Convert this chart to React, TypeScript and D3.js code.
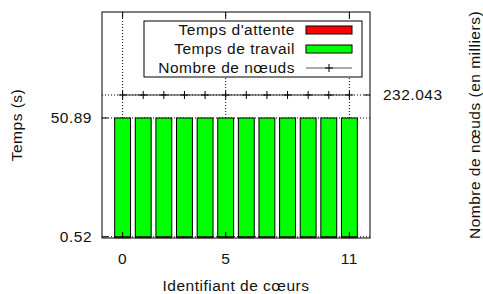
import { scaleLinear } from "d3";

const cores = [0, 1, 2, 3, 4, 5, 6, 7, 8, 9, 10, 11];
const waitTimes = [0.52, 0.52, 0.52, 0.52, 0.52, 0.52, 0.52, 0.52, 0.52, 0.52, 0.52, 0.52];
const workTimes = [50.37, 50.37, 50.37, 50.37, 50.37, 50.37, 50.37, 50.37, 50.37, 50.37, 50.37, 50.37];
const nodeCounts = [232.043, 232.043, 232.043, 232.043, 232.043, 232.043, 232.043, 232.043, 232.043, 232.043, 232.043, 232.043];
const xTicks = [0, 5, 11];
const yTicks = [0.52, 50.89];
const y2Ticks = [232.043];
const legendLabels = ["Temps d'attente", "Temps de travail", "Nombre de nœuds"];

const App = () => {
    const width = 483;
    const height = 294;
    const margin = { top: 12, right: 113, bottom: 56, left: 102 };
    const innerWidth = width - margin.left - margin.right;
    const innerHeight = height - margin.top - margin.bottom;
    const font = "'Liberation Sans', Arial, sans-serif";
    const fs = 15.5;

    const xScale = scaleLinear().domain([-1, 12]).range([0, innerWidth]);
    const yScale = scaleLinear().domain([0, 95.84]).range([innerHeight, 0]);
    const y2Scale = scaleLinear().domain([0, 366.7]).range([innerHeight, 0]);
    const boxWidth = xScale(0.77) - xScale(0);

    // legend placement
    const lg = { x: 42, y: 9, w: 218, h: 56, textRight: 193, swX: 204, swW: 46, row: 19 };

    return (
        <svg width={width} height={height}
            style={{ position: 'absolute', left: 0, top: 0, fontFamily: font, fontSize: fs, letterSpacing: '0.5px' }}>
            <rect width={width} height={height} fill="white" />
            <g transform={`translate(${margin.left},${margin.top})`}>
                {/* grid */}
                {xTicks.map(t =>
                    <line key={'gx' + t} x1={xScale(t)} x2={xScale(t)} y1={0} y2={innerHeight}
                        stroke="black" strokeWidth={1} strokeDasharray="1,2" />
                )}
                {yTicks.map(t =>
                    <line key={'gy' + t} x1={0} x2={innerWidth} y1={yScale(t)} y2={yScale(t)}
                        stroke="black" strokeWidth={1} strokeDasharray="1,2" />
                )}
                {y2Ticks.map(t =>
                    <line key={'gy2' + t} x1={0} x2={innerWidth} y1={y2Scale(t)} y2={y2Scale(t)}
                        stroke="black" strokeWidth={1} strokeDasharray="1,2" />
                )}
                {/* stacked bars */}
                {cores.map((c, i) =>
                    <g key={'b' + c}>
                        <rect x={xScale(c) - boxWidth / 2} width={boxWidth}
                            y={yScale(waitTimes[i])} height={yScale(0) - yScale(waitTimes[i])}
                            fill="#ff0000" stroke="#400" strokeWidth={0.5} />
                        <rect x={xScale(c) - boxWidth / 2} width={boxWidth}
                            y={yScale(waitTimes[i] + workTimes[i])} height={yScale(waitTimes[i]) - yScale(waitTimes[i] + workTimes[i])}
                            fill="#00ff00" stroke="black" strokeWidth={1} />
                    </g>
                )}
                {/* node count line */}
                <path
                    d={cores.map((c, i) => `${i ? 'L' : 'M'}${xScale(c)},${y2Scale(nodeCounts[i])}`).join('')}
                    fill="none" stroke="#333" strokeWidth={1} />
                {cores.map((c, i) =>
                    <path key={'p' + c}
                        d={`M${xScale(c) - 4},${y2Scale(nodeCounts[i])}h8M${xScale(c)},${y2Scale(nodeCounts[i]) - 4}v8`}
                        stroke="black" strokeWidth={1} />
                )}
                {/* border */}
                <rect x={0} y={0} width={innerWidth} height={innerHeight} fill="none" stroke="black" strokeWidth={1} />
                {/* ticks */}
                {xTicks.map(t =>
                    <g key={'tx' + t}>
                        <line x1={xScale(t)} x2={xScale(t)} y1={0} y2={6} stroke="black" />
                        <line x1={xScale(t)} x2={xScale(t)} y1={innerHeight} y2={innerHeight - 6} stroke="black" />
                        <text x={xScale(t)} y={innerHeight + 26} textAnchor="middle" fill="#111">{t}</text>
                    </g>
                )}
                {yTicks.map(t =>
                    <g key={'ty' + t}>
                        <line x1={0} x2={6} y1={yScale(t)} y2={yScale(t)} stroke="black" />
                        <text x={-10} y={yScale(t)} dy=".35em" textAnchor="end" fill="#111">{t}</text>
                    </g>
                )}
                {y2Ticks.map(t =>
                    <g key={'ty2' + t}>
                        <line x1={innerWidth} x2={innerWidth - 6} y1={y2Scale(t)} y2={y2Scale(t)} stroke="black" />
                        <text x={innerWidth + 13} y={y2Scale(t)} dy=".35em" textAnchor="start" fill="#111">{t}</text>
                    </g>
                )}
                {/* legend */}
                <rect x={lg.x} y={lg.y} width={lg.w} height={lg.h} fill="white" stroke="black" strokeWidth={1} />
                {legendLabels.map((l, i) =>
                    <text key={l} x={lg.textRight} y={lg.y + 9 + i * lg.row} dy=".35em" textAnchor="end" fill="#111">{l}</text>
                )}
                <rect x={lg.swX} y={lg.y + 5} width={lg.swW} height={8} fill="#ff0000" stroke="black" />
                <rect x={lg.swX} y={lg.y + 5 + lg.row} width={lg.swW} height={8} fill="#00ff00" stroke="black" />
                <line x1={lg.swX} x2={lg.swX + lg.swW} y1={lg.y + 9 + 2 * lg.row} y2={lg.y + 9 + 2 * lg.row} stroke="#555" />
                <path d={`M${lg.swX + lg.swW / 2 - 4},${lg.y + 9 + 2 * lg.row}h8M${lg.swX + lg.swW / 2},${lg.y + 5 + 2 * lg.row}v8`} stroke="black" />
                {/* axis titles */}
                <text x={innerWidth / 2} y={innerHeight + 53} textAnchor="middle" fill="#111">Identifiant de cœurs</text>
            </g>
            <text transform={`translate(22,${margin.top + innerHeight / 2}) rotate(-90)`} textAnchor="middle" fill="#111">Temps (s)</text>
            <text transform={`translate(480,${margin.top + innerHeight / 2}) rotate(-90)`} textAnchor="middle" fill="#111">Nombre de nœuds (en milliers)</text>
        </svg>
    );
};

export default App;
